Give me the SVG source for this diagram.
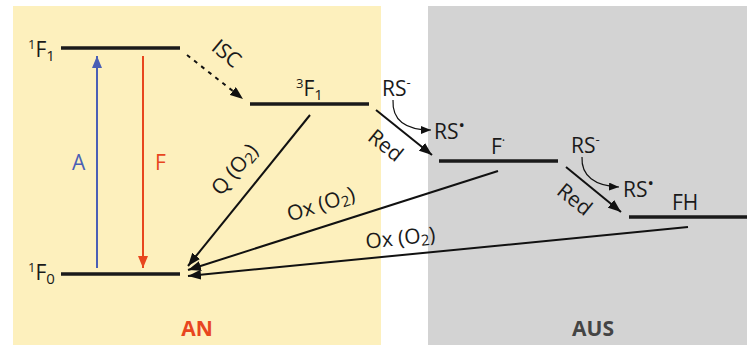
<svg xmlns="http://www.w3.org/2000/svg" width="747" height="345" viewBox="0 0 747 345">
<defs>
<marker id="ah" viewBox="0 0 13 10" refX="13" refY="5" markerWidth="13" markerHeight="10" markerUnits="userSpaceOnUse" orient="auto"><path d="M0,0 L13,5 L0,10 Z" fill="#111"/></marker>
<marker id="ahs" viewBox="0 0 10 8" refX="10" refY="4" markerWidth="10" markerHeight="8" markerUnits="userSpaceOnUse" orient="auto"><path d="M0,0 L10,4 L0,8 Z" fill="#111"/></marker>
<marker id="ahb" viewBox="0 0 12 10" refX="12" refY="5" markerWidth="12" markerHeight="10" markerUnits="userSpaceOnUse" orient="auto"><path d="M0,0 L12,5 L0,10 Z" fill="#4a5fb5"/></marker>
<marker id="ahr" viewBox="0 0 12 10" refX="12" refY="5" markerWidth="12" markerHeight="10" markerUnits="userSpaceOnUse" orient="auto"><path d="M0,0 L12,5 L0,10 Z" fill="#e8461e"/></marker>
</defs>
<style>
text{font-family:"Open Sans","Noto Sans","DejaVu Sans",sans-serif;font-size:21px;fill:#1a1a1a}
.lvl{stroke:#1a1a1a;stroke-width:3.5;fill:none}
.arr{stroke:#111;stroke-width:2;fill:none;marker-end:url(#ah)}
.thin{stroke:#111;stroke-width:1.2;fill:none;marker-end:url(#ahs)}
.sup{font-size:13px}
.dot{font-size:17px}
.sub{font-size:15px}
.big{font-weight:bold;font-size:21px}
</style>
<rect x="13" y="6" width="368" height="339" fill="#fdf0bd"/>
<rect x="428" y="6" width="319" height="339" fill="#d3d3d3"/>

<g id="connectors">
<line x1="97" y1="268" x2="97" y2="56" stroke="#4a5fb5" stroke-width="2" marker-end="url(#ahb)"/>
<line x1="143" y1="56" x2="143" y2="268" stroke="#e8461e" stroke-width="2" marker-end="url(#ahr)"/>
<line x1="187" y1="55" x2="243" y2="99" stroke="#111" stroke-width="2" stroke-dasharray="4,5" marker-end="url(#ah)"/>
<line class="arr" x1="310" y1="115" x2="188" y2="266"/>
<line class="arr" x1="376" y1="110" x2="432" y2="155"/>
<line class="arr" x1="498" y1="171" x2="188" y2="270"/>
<line class="arr" x1="566" y1="167" x2="621" y2="212"/>
<line class="arr" x1="688" y1="227" x2="188" y2="276"/>
<path class="thin" d="M393,100 C392,120 405,130 431,130"/>
<path class="thin" d="M582,157 C581,176 595,186 619,187"/>
<text x="72" y="170" style="fill:#4a5fb5">A</text>
<text x="155" y="170" style="fill:#e8461e">F</text>
<text transform="translate(222,59) rotate(40)" text-anchor="middle">ISC</text>
<text transform="translate(240,174) rotate(-50)" text-anchor="middle">Q (O<tspan class="sub" dy="3">2</tspan><tspan dy="-3">)</tspan></text>
<text transform="translate(381,151) rotate(39)" text-anchor="middle">Red</text>
<text transform="translate(570,205) rotate(39)" text-anchor="middle">Red</text>
<text transform="translate(323,211) rotate(-18)" text-anchor="middle">Ox (O<tspan class="sub" dy="3">2</tspan><tspan dy="-3">)</tspan></text>
<text transform="translate(401,245) rotate(-6)" text-anchor="middle">Ox (O<tspan class="sub" dy="3">2</tspan><tspan dy="-3">)</tspan></text>
<text x="382" y="96">RS<tspan class="sup" dy="-9">-</tspan></text>
<text x="434" y="139">RS<tspan class="dot" dy="-8">•</tspan></text>
<text x="571" y="153">RS<tspan class="sup" dy="-9">-</tspan></text>
<text x="623" y="197">RS<tspan class="dot" dy="-8">•</tspan></text>
</g>

<g id="S1">
<line class="lvl" x1="61" y1="48" x2="180" y2="48"/>
<text x="28" y="57"><tspan class="sup" dy="-8">1</tspan><tspan dy="8">F</tspan><tspan class="sub" dy="4">1</tspan></text>
</g>
<g id="S0">
<line class="lvl" x1="61" y1="274" x2="180" y2="274"/>
<text x="28" y="280"><tspan class="sup" dy="-8">1</tspan><tspan dy="8">F</tspan><tspan class="sub" dy="4">0</tspan></text>
</g>
<g id="T1">
<line class="lvl" x1="250" y1="104" x2="369" y2="104"/>
<text x="296" y="96"><tspan class="sup" dy="-8">3</tspan><tspan dy="8">F</tspan><tspan class="sub" dy="4">1</tspan></text>
</g>
<g id="Fradical">
<line class="lvl" x1="439" y1="161" x2="558" y2="161"/>
<text x="491" y="154">F<tspan class="sup" dy="-9">·</tspan></text>
</g>
<g id="FH">
<line class="lvl" x1="629" y1="217" x2="747" y2="217"/>
<text x="672" y="210">FH</text>
</g>
<g id="AN">
<text class="big" x="197" y="336" text-anchor="middle" style="fill:#e8461e">AN</text>
</g>
<g id="AUS">
<text class="big" x="593" y="336" text-anchor="middle" style="fill:#444">AUS</text>
</g>
</svg>
